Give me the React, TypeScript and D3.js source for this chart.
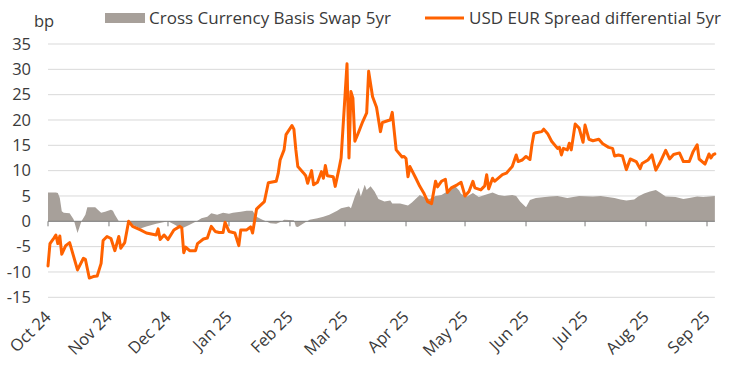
import React from "react";
import * as d3 from "d3";

const yTickValues = [35, 30, 25, 20, 15, 10, 5, 0, -5, -10, -15];
const seriesNames = ["Cross Currency Basis Swap 5yr", "USD EUR Spread differential 5yr"];
const axisStart = "2024-10-01";
const axisLastTick = "2025-09-01";

const basisSeries: [string, number][] = [
  ["2024-10-01", 5.7], ["2024-10-05", 5.7], ["2024-10-06", 5.6], ["2024-10-07", 4.6], ["2024-10-08", 2.0],
  ["2024-10-09", 1.7], ["2024-10-12", 1.6], ["2024-10-14", 0.4], ["2024-10-16", -2.3], ["2024-10-18", 0],
  ["2024-10-20", 1.3], ["2024-10-21", 2.8], ["2024-10-25", 2.8], ["2024-10-28", 1.7], ["2024-10-30", 1.9],
  ["2024-11-02", 2.3], ["2024-11-03", 2.1], ["2024-11-04", 1.3], ["2024-11-06", 0], ["2024-11-10", 0],
  ["2024-11-13", -0.7], ["2024-11-17", -1.4], ["2024-11-20", -1.0], ["2024-11-25", -0.5], ["2024-12-01", 0],
  ["2024-12-04", -0.6], ["2024-12-06", -1.0], ["2024-12-08", -1.4], ["2024-12-12", -0.7], ["2024-12-16", 0.1],
  ["2024-12-18", 0.6], ["2024-12-21", 0.9], ["2024-12-23", 1.6], ["2024-12-26", 1.3], ["2024-12-29", 1.7],
  ["2025-01-01", 1.5], ["2025-01-03", 1.7], ["2025-01-07", 1.9], ["2025-01-10", 2.1], ["2025-01-13", 2.1],
  ["2025-01-15", 0.9], ["2025-01-18", 0.3], ["2025-01-22", -0.4], ["2025-01-25", -0.5], ["2025-01-28", 0],
  ["2025-01-29", 0.3], ["2025-02-03", 0.2], ["2025-02-04", -1.0], ["2025-02-05", -1.1], ["2025-02-08", -0.4],
  ["2025-02-11", 0.3], ["2025-02-15", 0.6], ["2025-02-18", 0.9], ["2025-02-21", 1.3], ["2025-02-25", 2.1],
  ["2025-02-27", 2.6], ["2025-03-03", 2.9], ["2025-03-04", 2.6], ["2025-03-06", 4.9], ["2025-03-08", 6.6],
  ["2025-03-09", 4.9], ["2025-03-11", 7.2], ["2025-03-12", 6.2], ["2025-03-14", 6.9], ["2025-03-16", 5.9],
  ["2025-03-18", 4.4], ["2025-03-21", 3.9], ["2025-03-24", 4.1], ["2025-03-25", 3.5], ["2025-03-29", 3.5],
  ["2025-04-02", 3.1], ["2025-04-04", 3.7], ["2025-04-08", 5.2], ["2025-04-11", 4.6], ["2025-04-13", 4.4],
  ["2025-04-16", 5.0], ["2025-04-19", 5.2], ["2025-04-22", 5.9], ["2025-04-26", 6.9], ["2025-04-28", 6.1],
  ["2025-04-29", 5.4], ["2025-05-02", 4.9], ["2025-05-05", 5.6], ["2025-05-08", 4.8], ["2025-05-11", 5.2],
  ["2025-05-15", 5.7], ["2025-05-18", 5.2], ["2025-05-21", 5.0], ["2025-05-25", 5.2], ["2025-05-27", 5.0],
  ["2025-05-29", 3.9], ["2025-06-01", 2.8], ["2025-06-03", 4.2], ["2025-06-06", 4.6], ["2025-06-13", 4.9],
  ["2025-06-17", 5.0], ["2025-06-22", 4.6], ["2025-06-28", 5.0], ["2025-07-05", 4.9], ["2025-07-09", 5.0],
  ["2025-07-16", 4.6], ["2025-07-19", 4.3], ["2025-07-22", 4.1], ["2025-07-26", 4.3], ["2025-07-28", 4.9],
  ["2025-07-31", 5.5], ["2025-08-03", 5.9], ["2025-08-06", 6.2], ["2025-08-08", 5.7], ["2025-08-11", 4.9],
  ["2025-08-16", 4.8], ["2025-08-20", 4.4], ["2025-08-23", 4.6], ["2025-08-27", 4.9], ["2025-08-30", 4.8],
  ["2025-09-02", 4.9], ["2025-09-05", 5.0],
];

const spreadSeries: [string, number][] = [
  ["2024-10-01", -8.8], ["2024-10-02", -4.4], ["2024-10-04", -3.3], ["2024-10-05", -2.7], ["2024-10-06", -4.4],
  ["2024-10-07", -2.9], ["2024-10-08", -6.5], ["2024-10-10", -4.8], ["2024-10-12", -4.2], ["2024-10-16", -9.6],
  ["2024-10-19", -7.3], ["2024-10-20", -7.5], ["2024-10-22", -11.2], ["2024-10-24", -10.9], ["2024-10-26", -10.8],
  ["2024-10-28", -8.3], ["2024-10-29", -3.8], ["2024-10-31", -3.0], ["2024-11-02", -3.4], ["2024-11-04", -5.8],
  ["2024-11-06", -3.0], ["2024-11-07", -5.3], ["2024-11-09", -4.2], ["2024-11-11", 0], ["2024-11-13", -1.0],
  ["2024-11-17", -1.7], ["2024-11-20", -2.3], ["2024-11-25", -2.7], ["2024-11-26", -1.5], ["2024-11-27", -3.6],
  ["2024-11-29", -2.7], ["2024-12-01", -3.6], ["2024-12-04", -1.7], ["2024-12-07", -1.0], ["2024-12-08", -1.3],
  ["2024-12-09", -6.2], ["2024-12-10", -5.1], ["2024-12-12", -5.8], ["2024-12-15", -5.8], ["2024-12-16", -4.4],
  ["2024-12-19", -3.5], ["2024-12-21", -3.3], ["2024-12-23", -1.0], ["2024-12-25", -2.0], ["2024-12-27", -2.2],
  ["2024-12-29", -2.2], ["2024-12-30", -0.2], ["2025-01-01", -2.0], ["2025-01-04", -2.3], ["2025-01-06", -4.8],
  ["2025-01-07", -1.7], ["2025-01-10", -1.7], ["2025-01-12", -1.1], ["2025-01-13", -2.3], ["2025-01-15", 2.4],
  ["2025-01-16", 2.8], ["2025-01-19", 3.9], ["2025-01-21", 7.6], ["2025-01-25", 7.9], ["2025-01-26", 9.4],
  ["2025-01-27", 12.1], ["2025-01-29", 14.1], ["2025-01-30", 17.1], ["2025-02-02", 18.9], ["2025-02-03", 18.2],
  ["2025-02-04", 14.1], ["2025-02-05", 10.8], ["2025-02-08", 9.5], ["2025-02-09", 9.0], ["2025-02-10", 7.5],
  ["2025-02-12", 10.0], ["2025-02-13", 7.2], ["2025-02-15", 7.7], ["2025-02-17", 9.8], ["2025-02-18", 8.5],
  ["2025-02-19", 11.0], ["2025-02-20", 9.0], ["2025-02-23", 8.8], ["2025-02-24", 6.9], ["2025-02-26", 10.5],
  ["2025-02-27", 12.5], ["2025-02-28", 18.7], ["2025-03-02", 31.1], ["2025-03-03", 12.5], ["2025-03-04", 25.6],
  ["2025-03-05", 24.3], ["2025-03-06", 15.8], ["2025-03-08", 17.7], ["2025-03-10", 19.7], ["2025-03-12", 21.4],
  ["2025-03-13", 29.6], ["2025-03-15", 24.6], ["2025-03-17", 22.5], ["2025-03-19", 17.7], ["2025-03-20", 19.5],
  ["2025-03-23", 19.9], ["2025-03-24", 20.0], ["2025-03-25", 21.5], ["2025-03-27", 14.1], ["2025-03-30", 12.7],
  ["2025-03-31", 12.8], ["2025-04-01", 12.4], ["2025-04-02", 8.8], ["2025-04-03", 10.8], ["2025-04-06", 8.5],
  ["2025-04-08", 6.9], ["2025-04-10", 5.6], ["2025-04-12", 3.9], ["2025-04-14", 3.5], ["2025-04-16", 7.9],
  ["2025-04-17", 6.8], ["2025-04-19", 7.9], ["2025-04-21", 8.3], ["2025-04-22", 5.7], ["2025-04-24", 6.6],
  ["2025-04-27", 7.2], ["2025-04-29", 7.7], ["2025-05-01", 5.0], ["2025-05-03", 5.9], ["2025-05-05", 7.9],
  ["2025-05-06", 6.6], ["2025-05-09", 6.2], ["2025-05-11", 7.0], ["2025-05-12", 9.2], ["2025-05-13", 6.4],
  ["2025-05-15", 8.5], ["2025-05-16", 7.9], ["2025-05-20", 9.2], ["2025-05-22", 9.5], ["2025-05-25", 10.8],
  ["2025-05-27", 13.1], ["2025-05-28", 11.8], ["2025-05-30", 12.1], ["2025-06-01", 12.8], ["2025-06-03", 12.2],
  ["2025-06-04", 15.1], ["2025-06-05", 17.3], ["2025-06-06", 17.5], ["2025-06-09", 17.7], ["2025-06-10", 18.2],
  ["2025-06-12", 17.3], ["2025-06-14", 15.8], ["2025-06-17", 14.4], ["2025-06-18", 14.6], ["2025-06-19", 13.1],
  ["2025-06-20", 14.4], ["2025-06-22", 14.1], ["2025-06-23", 15.4], ["2025-06-24", 14.1], ["2025-06-26", 19.2],
  ["2025-06-28", 18.4], ["2025-06-30", 15.6], ["2025-07-01", 19.0], ["2025-07-03", 16.2], ["2025-07-05", 15.9],
  ["2025-07-08", 16.2], ["2025-07-10", 15.3], ["2025-07-13", 14.6], ["2025-07-15", 14.4], ["2025-07-16", 12.9],
  ["2025-07-18", 13.1], ["2025-07-20", 12.9], ["2025-07-22", 10.2], ["2025-07-24", 12.3], ["2025-07-27", 11.8],
  ["2025-07-29", 10.4], ["2025-07-30", 11.4], ["2025-08-02", 12.1], ["2025-08-04", 13.1], ["2025-08-06", 10.1],
  ["2025-08-08", 11.5], ["2025-08-11", 14.0], ["2025-08-13", 12.3], ["2025-08-15", 13.2], ["2025-08-18", 13.5],
  ["2025-08-20", 11.8], ["2025-08-23", 11.8], ["2025-08-25", 13.8], ["2025-08-27", 15.1], ["2025-08-28", 12.3],
  ["2025-08-31", 11.3], ["2025-09-02", 13.3], ["2025-09-03", 12.5], ["2025-09-04", 13.1], ["2025-09-05", 13.3],
];

const ORANGE = "#FF6200";
const GREY = "#A7A09A";
const TEXT = "#3a3a3a";
const FONT = "'Open Sans', 'Noto Sans', sans-serif";

export default function App() {
  const parse = d3.timeParse("%Y-%m-%d");
  const p = (s: string) => parse(s) as Date;

  const x = d3.scaleTime().domain([p(axisStart), p(axisLastTick)]).range([48, 707]);
  const y = d3.scaleLinear().domain([-15, 35]).range([297.3, 44]);

  const xLeft = x(p(axisStart));
  const xRight = x(p(spreadSeries[spreadSeries.length - 1][0]));

  const area = d3
    .area<[string, number]>()
    .x((d) => x(p(d[0])))
    .y0(y(0))
    .y1((d) => y(d[1]));

  const line = d3
    .line<[string, number]>()
    .x((d) => x(p(d[0])))
    .y((d) => y(d[1]));

  const months = d3.timeMonth.range(p(axisStart), d3.timeDay.offset(p(axisLastTick), 1));
  const fmt = d3.timeFormat("%b %y");

  return (
    <svg
      width={742}
      height={379}
      style={{ position: "fixed", left: 0, top: 0, background: "#fff" }}
      fontFamily={FONT}
    >
      {/* gridlines */}
      {yTickValues
        .filter((v) => v !== 0)
        .map((v) => (
          <line key={v} x1={xLeft} x2={xRight} y1={y(v)} y2={y(v)} stroke="#d9d9d9" strokeWidth={1} />
        ))}

      {/* basis area */}
      <path d={area(basisSeries) || ""} fill={GREY} stroke="none" />

      {/* zero axis */}
      <line x1={xLeft} x2={xRight} y1={y(0)} y2={y(0)} stroke="#7a7a7a" strokeWidth={1} />
      {months.map((m) => (
        <line key={+m} x1={x(m)} x2={x(m)} y1={y(0)} y2={y(0) + 5} stroke="#7a7a7a" strokeWidth={1} />
      ))}

      {/* spread line */}
      <path
        d={line(spreadSeries) || ""}
        fill="none"
        stroke={ORANGE}
        strokeWidth={3}
        strokeLinejoin="round"
        strokeLinecap="round"
      />

      {/* y tick labels */}
      {yTickValues.map((v) => (
        <text key={v} x={31} y={y(v)} dy="0.35em" textAnchor="end" fontSize={16.5} fill={TEXT}>
          {v}
        </text>
      ))}
      <text x={34} y={27} fontSize={16.5} fill={TEXT}>
        bp
      </text>

      {/* x tick labels */}
      {months.map((m) => {
        const ax = x(m) + 4;
        const ay = 318;
        return (
          <text
            key={+m}
            x={ax}
            y={ay}
            textAnchor="end"
            fontSize={16.5}
            fill={TEXT}
            transform={`rotate(-45 ${ax} ${ay})`}
          >
            {fmt(m)}
          </text>
        );
      })}

      {/* legend */}
      <rect x={105} y={13} width={40} height={10} fill={GREY} />
      <text x={149} y={24} fontSize={17} fill={TEXT}>
        {seriesNames[0]}
      </text>
      <line x1={425} x2={464} y1={18} y2={18} stroke={ORANGE} strokeWidth={3} />
      <text x={469} y={24} fontSize={17} fill={TEXT}>
        {seriesNames[1]}
      </text>
    </svg>
  );
}
